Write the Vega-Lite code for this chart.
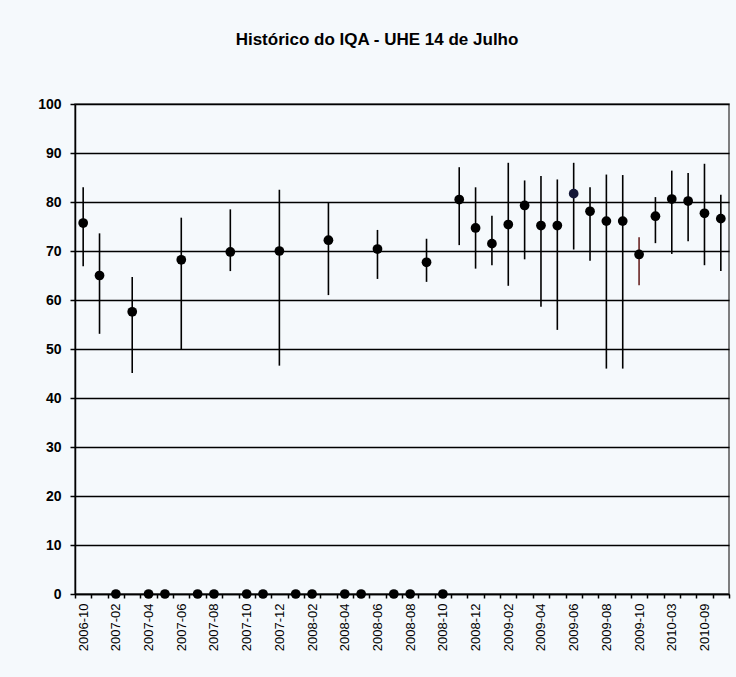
{
  "$schema": "https://vega.github.io/schema/vega-lite/v6.json",
  "width": 654,
  "height": 490,
  "autosize": "none",
  "padding": {"left": 75, "top": 104, "right": 7, "bottom": 83},
  "background": "#f5f9fc",
  "title": {
    "text": "Histórico do IQA - UHE 14 de Julho",
    "font": "Liberation Sans",
    "fontSize": 17,
    "fontWeight": "bold",
    "color": "#000000",
    "anchor": "middle",
    "dx": -25,
    "baseline": "middle",
    "offset": 40
  },
  "data": {
    "values": [
      {"m": "2006-10", "v": 75.7, "lo": 66.9, "hi": 83.0},
      {"m": "2007-01", "v": 65.0, "lo": 53.1, "hi": 73.6},
      {"m": "2007-02", "v": 0, "lo": null, "hi": null},
      {"m": "2007-03", "v": 57.6, "lo": 45.1, "hi": 64.7},
      {"m": "2007-04", "v": 0, "lo": null, "hi": null},
      {"m": "2007-05", "v": 0, "lo": null, "hi": null},
      {"m": "2007-06", "v": 68.2, "lo": 49.8, "hi": 76.8},
      {"m": "2007-07", "v": 0, "lo": null, "hi": null},
      {"m": "2007-08", "v": 0, "lo": null, "hi": null},
      {"m": "2007-09", "v": 69.8, "lo": 65.9, "hi": 78.5},
      {"m": "2007-10", "v": 0, "lo": null, "hi": null},
      {"m": "2007-11", "v": 0, "lo": null, "hi": null},
      {"m": "2007-12", "v": 70.0, "lo": 46.6, "hi": 82.5},
      {"m": "2008-01", "v": 0, "lo": null, "hi": null},
      {"m": "2008-02", "v": 0, "lo": null, "hi": null},
      {"m": "2008-03", "v": 72.2, "lo": 61.0, "hi": 79.8},
      {"m": "2008-04", "v": 0, "lo": null, "hi": null},
      {"m": "2008-05", "v": 0, "lo": null, "hi": null},
      {"m": "2008-06", "v": 70.4, "lo": 64.3, "hi": 74.3},
      {"m": "2008-07", "v": 0, "lo": null, "hi": null},
      {"m": "2008-08", "v": 0, "lo": null, "hi": null},
      {"m": "2008-09", "v": 67.7, "lo": 63.7, "hi": 72.5},
      {"m": "2008-10", "v": 0, "lo": null, "hi": null},
      {"m": "2008-11", "v": 80.5, "lo": 71.2, "hi": 87.1},
      {"m": "2008-12", "v": 74.7, "lo": 66.4, "hi": 83.0},
      {"m": "2009-01", "v": 71.5, "lo": 67.1, "hi": 77.2},
      {"m": "2009-02", "v": 75.4, "lo": 62.9, "hi": 88.0},
      {"m": "2009-03", "v": 79.3, "lo": 68.3, "hi": 84.4},
      {"m": "2009-04", "v": 75.2, "lo": 58.6, "hi": 85.3},
      {"m": "2009-05", "v": 75.2, "lo": 53.9, "hi": 84.6},
      {"m": "2009-06", "v": 81.7, "lo": 70.3, "hi": 88.0},
      {"m": "2009-07", "v": 78.1, "lo": 68.0, "hi": 83.0},
      {"m": "2009-08", "v": 76.1, "lo": 46.0, "hi": 85.6},
      {"m": "2009-09", "v": 76.1, "lo": 46.0, "hi": 85.5},
      {"m": "2009-10", "v": 69.3, "lo": 63.0, "hi": 72.8},
      {"m": "2009-12", "v": 77.1, "lo": 71.6, "hi": 81.0},
      {"m": "2010-03", "v": 80.6, "lo": 69.4, "hi": 86.4},
      {"m": "2010-06", "v": 80.2, "lo": 72.0, "hi": 85.9},
      {"m": "2010-09", "v": 77.7, "lo": 67.1, "hi": 87.8},
      {"m": "2010-12", "v": 76.6, "lo": 65.9, "hi": 81.5}
    ]
  },
  "encoding": {
    "x": {
      "field": "m",
      "type": "ordinal",
      "scale": {
        "type": "band",
        "paddingInner": 0,
        "paddingOuter": 0,
        "domain": ["2006-10","2007-01","2007-02","2007-03","2007-04","2007-05","2007-06","2007-07","2007-08","2007-09","2007-10","2007-11","2007-12","2008-01","2008-02","2008-03","2008-04","2008-05","2008-06","2008-07","2008-08","2008-09","2008-10","2008-11","2008-12","2009-01","2009-02","2009-03","2009-04","2009-05","2009-06","2009-07","2009-08","2009-09","2009-10","2009-12","2010-03","2010-06","2010-09","2010-12"]
      },
      "axis": {
        "title": null,
        "labelAngle": -90,
        "labelAlign": "right",
        "labelBaseline": "middle",
        "labelFont": "Liberation Sans",
        "labelFontSize": 13,
        "labelColor": "#000000",
        "labelPadding": 5,
        "labelOverlap": false,
        "tickBand": "extent",
        "tickSize": 4,
        "tickColor": "#000000",
        "tickWidth": 1.5,
        "domainColor": "#000000",
        "domainWidth": 1.5,
        "grid": false,
        "labelExpr": "indexof(['2006-10','2007-02','2007-04','2007-06','2007-08','2007-10','2007-12','2008-02','2008-04','2008-06','2008-08','2008-10','2008-12','2009-02','2009-04','2009-06','2009-08','2009-10','2010-03','2010-09'], datum.value) >= 0 ? datum.value : ''"
      }
    }
  },
  "layer": [
    {
      "mark": {"type": "rule", "strokeWidth": 1.6},
      "encoding": {
        "y": {"field": "lo", "type": "quantitative"},
        "y2": {"field": "hi"},
        "color": {
          "condition": {"test": "datum.m == '2009-10'", "value": "#6a2424"},
          "value": "#000000"
        }
      }
    },
    {
      "mark": {"type": "circle", "size": 95, "opacity": 1},
      "encoding": {
        "y": {
          "field": "v",
          "type": "quantitative",
          "scale": {"domain": [0, 100], "nice": false, "zero": true},
          "axis": {
            "title": null,
            "values": [0, 10, 20, 30, 40, 50, 60, 70, 80, 90, 100],
            "labelFont": "Liberation Sans",
            "labelFontSize": 14,
            "labelFontWeight": "bold",
            "labelColor": "#000000",
            "labelPadding": 9,
            "tickSize": 5,
            "tickColor": "#000000",
            "tickWidth": 1.5,
            "domainColor": "#000000",
            "domainWidth": 1.5,
            "grid": true,
            "gridColor": "#000000",
            "gridWidth": 1.5,
            "gridOpacity": 1
          }
        },
        "color": {
          "condition": {"test": "datum.m == '2009-06'", "value": "#141838"},
          "value": "#000000"
        }
      }
    }
  ],
  "config": {
    "view": {"stroke": "#555555", "strokeWidth": 1.5},
    "font": "Liberation Sans"
  }
}
